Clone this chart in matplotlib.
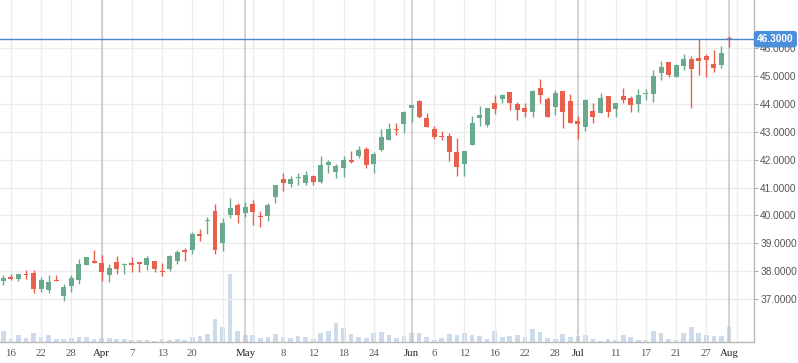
"""
Daily candlestick chart with volume bars underneath and the last price marked
on the right-hand axis.
"""

import matplotlib
matplotlib.use("Agg")
import matplotlib.pyplot as plt

# ── Data (one entry per trading session) ─────────────────────────────────────
opens = [37.65, 37.82, 37.73, 37.89, 37.96, 37.37, 37.33, 37.68, 37.14, 37.48,
         37.69, 38.22, 38.39, 38.32, 37.87, 38.35, 38.22, 38.30, 38.35, 38.22,
         38.39, 38.03, 38.08, 38.39, 38.78, 38.78, 39.33, 39.79, 40.17, 39.00,
         40.00, 40.38, 40.10, 40.40, 39.99, 39.98, 40.67, 41.30, 41.12, 41.35,
         41.17, 41.40, 41.20, 41.80, 41.55, 41.69, 41.98, 42.12, 42.37, 41.83,
         42.33, 42.69, 43.08, 43.26, 43.85, 44.08, 43.48, 43.08, 42.83, 42.83,
         42.26, 41.83, 42.51, 43.50, 43.23, 44.01, 44.15, 44.40, 43.98, 43.83,
         43.69, 44.55, 44.15, 43.87, 44.44, 44.08, 43.37, 43.15, 43.73, 43.65,
         44.26, 43.80, 44.26, 44.19, 43.98, 44.33, 44.35, 45.08, 45.48, 44.94,
         45.33, 45.58, 45.62, 45.69, 45.40, 45.37, 46.31]
highs = [37.88, 37.92, 37.92, 38.06, 38.06, 37.81, 37.88, 37.88, 37.57, 37.88,
         38.43, 38.50, 38.75, 38.60, 38.28, 38.56, 38.32, 38.53, 38.35, 38.57,
         38.39, 38.32, 38.60, 38.78, 38.85, 39.42, 39.50, 39.96, 40.42, 39.92,
         40.63, 40.45, 40.49, 40.55, 40.15, 40.43, 41.08, 41.51, 41.40, 41.51,
         41.58, 41.44, 42.12, 41.98, 41.83, 42.12, 42.30, 42.48, 42.44, 42.26,
         43.08, 43.30, 43.30, 43.73, 43.96, 44.12, 43.65, 43.19, 43.01, 42.94,
         42.76, 42.30, 43.55, 43.90, 43.83, 44.30, 44.33, 44.40, 44.05, 44.01,
         44.48, 44.87, 44.23, 44.48, 44.44, 44.33, 43.55, 44.15, 44.01, 44.37,
         44.26, 44.01, 44.55, 44.26, 44.51, 44.51, 45.19, 45.51, 45.48, 45.40,
         45.76, 45.69, 46.29, 45.76, 45.90, 46.05, 46.42]
lows = [37.52, 37.70, 37.65, 37.73, 37.23, 37.26, 37.23, 37.65, 36.94, 37.26,
        37.55, 38.22, 38.32, 37.65, 37.62, 37.90, 37.90, 37.98, 37.98, 38.04,
        37.98, 37.83, 38.01, 38.25, 38.39, 38.62, 39.08, 39.33, 38.62, 38.72,
        39.90, 39.74, 39.96, 39.65, 39.58, 39.81, 40.45, 40.87, 41.01, 41.08,
        41.08, 41.08, 41.17, 41.51, 41.33, 41.37, 41.87, 42.05, 41.69, 41.51,
        42.30, 42.69, 42.87, 42.94, 43.33, 43.48, 43.15, 42.73, 42.69, 41.94,
        41.40, 41.40, 42.51, 43.19, 43.15, 43.62, 44.01, 43.76, 43.40, 43.51,
        43.51, 44.01, 43.51, 43.58, 43.12, 43.30, 42.73, 43.01, 43.30, 43.65,
        43.51, 43.51, 44.01, 43.69, 43.69, 44.12, 44.05, 44.83, 44.94, 44.94,
        45.19, 43.83, 45.01, 44.94, 45.12, 45.26, 46.02]
closes = [37.77, 37.73, 37.92, 37.86, 37.37, 37.71, 37.64, 37.65, 37.43, 37.75,
          38.25, 38.50, 38.32, 37.98, 38.13, 38.08, 38.28, 38.22, 38.26, 38.49,
          38.08, 37.98, 38.57, 38.71, 38.68, 39.35, 39.26, 39.85, 38.78, 39.74,
          40.28, 40.00, 40.31, 40.12, 39.93, 40.37, 41.08, 41.17, 41.30, 41.37,
          41.44, 41.20, 41.80, 41.90, 41.76, 41.98, 41.90, 42.33, 41.80, 42.19,
          42.80, 43.08, 43.05, 43.69, 43.94, 43.51, 43.15, 42.80, 42.80, 42.26,
          41.73, 42.30, 43.30, 43.58, 43.83, 43.80, 44.30, 44.01, 43.76, 43.69,
          44.44, 44.30, 43.51, 44.37, 43.69, 43.30, 43.26, 44.12, 43.51, 44.19,
          43.69, 44.01, 44.12, 43.94, 44.30, 44.35, 44.98, 45.30, 45.01, 45.37,
          45.58, 45.23, 45.51, 45.55, 45.26, 45.80, 46.30]
volumes = [11, 3, 7, 4, 9, 5, 7, 3, 3, 4, 5, 5, 3, 4, 4, 3, 3, 2, 2, 2,
           1, 3, 2, 3, 2, 5, 6, 8, 23, 15, 68, 11, 7, 7, 4, 5,
           8, 5, 4, 6, 5, 3, 9, 11, 19, 14, 8, 5, 4, 9, 10, 7, 4, 6, 9, 9,
           5, 2, 4, 8, 7, 9, 7, 6, 3, 11, 5, 6, 7, 5,
           13, 10, 4, 3, 8, 5, 6, 7, 3, 1, 3, 2, 7, 5, 2, 2, 11, 9, 3, 2,
           9, 15, 9, 7, 6, 6, 15]

# x-axis labels (session index -> text); months get a darker divider line
tick_idx = [1, 5, 9, 13, 17, 21, 25, 32, 37, 41, 45, 49, 54, 57, 61, 65, 69,
            73, 76, 81, 85, 89, 93, 96]
tick_labels = ["16", "22", "28", "Apr", "7", "13", "20", "May", "8", "12",
               "18", "24", "Jun", "6", "12", "16", "22", "28", "Jul", "11",
               "17", "21", "27", "Aug"]
month_idx = [13, 32, 54, 76, 96]
grid_idx = list(range(1, 98, 4))
price_ticks = [37, 38, 39, 40, 41, 42, 43, 44, 45, 46]

UP = "#6aaa8c"
DOWN = "#e8604c"
VOL = "#cddbec"
LAST = "#4a86c8"


def main():
    fig = plt.figure(figsize=(7.98, 3.63), dpi=100)
    ax = fig.add_axes([0.0, 21 / 363, 754 / 798, 342 / 363])
    axv = ax.twinx()

    # volume underneath, price on top
    ax.set_zorder(axv.get_zorder() + 1)
    ax.patch.set_visible(False)

    n = len(closes)
    xs = range(n)
    axv.bar(xs, volumes, width=0.62, color=VOL, zorder=1)
    axv.set_ylim(0, max(volumes) * 342 / 68)
    axv.axis("off")

    # ── Grid ─────────────────────────────────────────────────────────────
    for i in grid_idx:
        ax.axvline(i, color="#ececec", lw=1.0, zorder=0)
    for i in month_idx:
        ax.axvline(i, color="#c6c6c6", lw=1.1, zorder=0.5)
    for p in price_ticks:
        ax.axhline(p, color="#ececec", lw=1.0, zorder=0)

    # ── Candles ──────────────────────────────────────────────────────────
    for i in xs:
        o, h, l, c = opens[i], highs[i], lows[i], closes[i]
        col = UP if c >= o else DOWN
        ax.vlines(i, l, h, color=col, lw=1.0, zorder=3)
        body = max(abs(c - o), 0.04)
        ax.bar(i, body, bottom=min(o, c), width=0.66, color=col, zorder=4)

    # last price line + tag
    last = closes[-1]
    ax.axhline(last, color=LAST, lw=1.0, zorder=5)
    ax.annotate(f"{last:.4f}", xy=(1.0, last),
                xycoords=("axes fraction", "data"),
                xytext=(2.2, 0), textcoords="offset points",
                ha="left", va="center", color="white", fontsize=7.3,
                fontweight="bold", family="Liberation Sans",
                bbox=dict(boxstyle="round,pad=0.32", fc="#4b8fdc", ec="none"),
                annotation_clip=False, zorder=10)

    # ── Axes ─────────────────────────────────────────────────────────────
    ax.set_xlim(-0.44, 99.3)
    ax.set_ylim(35.48, 47.70)

    ax.yaxis.tick_right()
    ax.set_yticks(price_ticks)
    ax.set_yticklabels([f"{p:.4f}" for p in price_ticks],
                       family="Liberation Sans", fontsize=7.3, color="#555555")
    ax.tick_params(axis="y", length=3, width=0.8, color="#b0b0b0", pad=1.5)

    ax.set_xticks(tick_idx)
    ax.set_xticklabels(tick_labels, family="Liberation Serif", fontsize=7.8)
    ax.tick_params(axis="x", length=0, pad=5)
    for lab in ax.get_xticklabels():
        if lab.get_text().isdigit():
            lab.set_color("#555555")
        else:
            lab.set_color("#222222")

    for side in ("left", "top"):
        ax.spines[side].set_visible(False)
    for side in ("right", "bottom"):
        ax.spines[side].set_color("#b8b8b8")
        ax.spines[side].set_linewidth(1.0)

    fig.savefig("out.png", dpi=100)
    plt.close(fig)


if __name__ == "__main__":
    main()
